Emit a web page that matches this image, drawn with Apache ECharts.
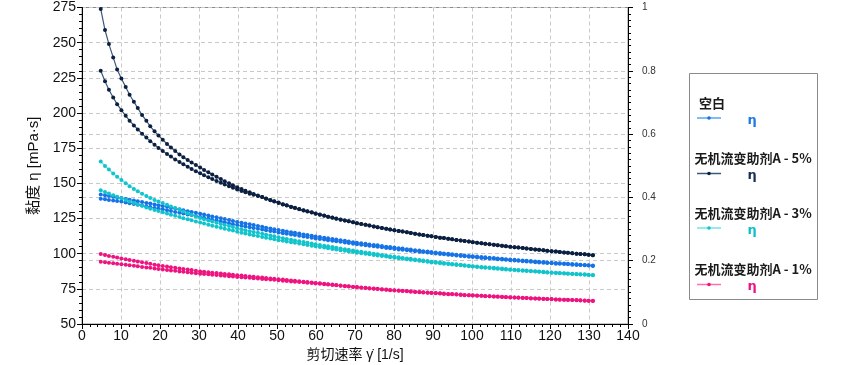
<!DOCTYPE html>
<html><head><meta charset="utf-8">
<script src="https://cdn.jsdelivr.net/npm/echarts@6/dist/echarts.min.js"></script>
<style>html,body{margin:0;padding:0;background:#fff}#c{width:844px;height:365px}</style>
</head><body><div id="c"></div>
<script>
// shear rate (1/s), shared by all curves
const shearRate = [
4.8, 5.9, 6.9, 8.0, 9.0, 10.1, 11.2, 12.2, 13.3, 14.3,
15.4, 16.5, 17.5, 18.6, 19.6, 20.7, 21.8, 22.8, 23.9, 25.0,
26.0, 27.1, 28.1, 29.2, 30.3, 31.3, 32.4, 33.4, 34.5, 35.6,
36.6, 37.7, 38.7, 39.8, 40.9, 41.9, 43.0, 44.0, 45.1, 46.2,
47.2, 48.3, 49.3, 50.4, 51.5, 52.5, 53.6, 54.6, 55.7, 56.8,
57.8, 58.9, 59.9, 61.0, 62.1, 63.1, 64.2, 65.2, 66.3, 67.4,
68.4, 69.5, 70.5, 71.6, 72.7, 73.7, 74.8, 75.8, 76.9, 78.0,
79.0, 80.1, 81.2, 82.2, 83.3, 84.3, 85.4, 86.5, 87.5, 88.6,
89.6, 90.7, 91.8, 92.8, 93.9, 94.9, 96.0, 97.1, 98.1, 99.2,
100.2, 101.3, 102.4, 103.4, 104.5, 105.6, 106.6, 107.7, 108.7, 109.8,
110.9, 111.9, 113.0, 114.0, 115.1, 116.2, 117.2, 118.3, 119.3, 120.4,
121.5, 122.5, 123.6, 124.6, 125.7, 126.8, 127.8, 128.9, 129.9, 131.0];

// 空白
const blankUp = [
142.0, 141.5, 141.0, 140.5, 140.0, 139.5, 138.9, 138.4, 137.8, 137.3,
136.7, 136.1, 135.6, 135.0, 134.5, 133.9, 133.3, 132.7, 132.1, 131.5,
130.9, 130.2, 129.7, 129.1, 128.4, 127.8, 127.1, 126.5, 125.9, 125.2,
124.6, 123.9, 123.3, 122.6, 122.0, 121.5, 120.9, 120.3, 119.7, 119.1,
118.5, 117.9, 117.4, 116.8, 116.3, 115.8, 115.3, 114.8, 114.3, 113.7,
113.3, 112.7, 112.2, 111.8, 111.3, 110.9, 110.4, 110.0, 109.6, 109.1,
108.7, 108.2, 107.8, 107.4, 107.0, 106.6, 106.2, 105.9, 105.4, 105.0,
104.7, 104.3, 103.9, 103.6, 103.2, 102.9, 102.5, 102.2, 101.8, 101.5,
101.1, 100.8, 100.5, 100.2, 99.9, 99.6, 99.3, 99.0, 98.7, 98.4,
98.2, 97.9, 97.6, 97.4, 97.1, 96.9, 96.6, 96.4, 96.1, 95.8,
95.6, 95.4, 95.1, 94.9, 94.7, 94.4, 94.2, 94.0, 93.8, 93.5,
93.3, 93.2, 93.0, 92.8, 92.6, 92.4, 92.2, 92.0, 91.8, 91.6];
const blankDown = [
139.0, 138.6, 138.2, 137.8, 137.4, 137.0, 136.4, 135.9, 135.3, 134.8,
134.2, 133.6, 133.1, 132.5, 132.0, 131.5, 130.9, 130.3, 129.7, 129.1,
128.5, 127.9, 127.4, 126.8, 126.1, 125.5, 124.8, 124.2, 123.6, 122.9,
122.3, 121.6, 121.0, 120.4, 119.8, 119.4, 118.8, 118.3, 117.7, 117.2,
116.6, 116.1, 115.7, 115.1, 114.6, 114.2, 113.7, 113.3, 112.8, 112.2,
111.9, 111.3, 110.8, 110.4, 110.0, 109.6, 109.1, 108.8, 108.4, 107.9,
107.6, 107.1, 106.7, 106.3, 105.9, 105.6, 105.2, 104.9, 104.5, 104.1,
103.8, 103.4, 103.0, 102.7, 102.4, 102.1, 101.7, 101.4, 101.1, 100.8,
100.4, 100.1, 99.8, 99.5, 99.2, 99.0, 98.7, 98.4, 98.1, 97.8,
97.6, 97.3, 97.0, 96.8, 96.5, 96.3, 96.0, 95.8, 95.6, 95.3,
95.1, 94.9, 94.6, 94.4, 94.2, 93.9, 93.8, 93.6, 93.4, 93.1,
92.9, 92.8, 92.6, 92.4, 92.2, 92.0, 91.9, 91.7, 91.5, 91.3];

// 无机流变助剂A - 5%
const a5Up = [
274.0, 259.0, 249.0, 239.5, 231.0, 224.5, 218.5, 213.0, 208.0, 203.5,
198.5, 194.5, 190.5, 187.0, 184.0, 181.0, 178.0, 175.5, 173.0, 170.5,
168.5, 166.5, 164.8, 163.0, 161.2, 159.5, 157.8, 156.2, 154.6, 153.0,
151.5, 150.0, 148.7, 147.3, 146.0, 144.8, 143.6, 142.5, 141.3, 140.2,
139.3, 138.2, 137.2, 136.3, 135.2, 134.4, 133.4, 132.6, 131.7, 130.9,
130.1, 129.4, 128.6, 127.8, 127.1, 126.3, 125.7, 125.0, 124.3, 123.5,
123.0, 122.4, 121.7, 121.1, 120.5, 120.0, 119.4, 118.8, 118.2, 117.7,
117.2, 116.7, 116.1, 115.7, 115.2, 114.7, 114.2, 113.7, 113.2, 112.8,
112.4, 111.9, 111.4, 111.1, 110.6, 110.2, 109.8, 109.4, 109.0, 108.6,
108.2, 107.8, 107.4, 107.1, 106.7, 106.3, 106.0, 105.6, 105.3, 104.9,
104.6, 104.3, 104.0, 103.7, 103.3, 103.0, 102.7, 102.4, 102.1, 101.8,
101.5, 101.2, 100.9, 100.6, 100.3, 100.0, 99.8, 99.5, 99.2, 98.9];
const a5Down = [
230.0, 222.5, 216.5, 211.0, 206.3, 202.0, 198.0, 194.5, 191.2, 188.3,
185.3, 182.5, 180.0, 177.5, 175.2, 173.0, 170.9, 169.0, 167.0, 165.2,
163.5, 161.8, 160.2, 158.6, 157.1, 155.7, 154.3, 153.0, 151.7, 150.4,
149.2, 148.0, 146.8, 145.7, 144.6, 143.6, 142.6, 141.8, 141.0, 140.2,
139.1, 138.0, 137.0, 136.1, 135.0, 134.2, 133.2, 132.4, 131.5, 130.7,
129.9, 129.2, 128.4, 127.7, 127.0, 126.2, 125.6, 124.9, 124.2, 123.5,
123.0, 122.4, 121.7, 121.1, 120.5, 120.0, 119.4, 118.8, 118.2, 117.7,
117.2, 116.7, 116.1, 115.7, 115.2, 114.7, 114.2, 113.7, 113.2, 112.8,
112.4, 111.9, 111.4, 111.1, 110.6, 110.2, 109.8, 109.4, 109.0, 108.6,
108.2, 107.8, 107.4, 107.1, 106.7, 106.3, 106.0, 105.6, 105.3, 104.9,
104.6, 104.3, 104.0, 103.7, 103.3, 103.0, 102.7, 102.4, 102.1, 101.8,
101.5, 101.2, 100.9, 100.6, 100.3, 100.0, 99.8, 99.5, 99.2, 98.9];

// 无机流变助剂A - 3%
const a3Up = [
165.5, 162.3, 159.8, 157.0, 154.7, 152.3, 150.0, 148.0, 146.0, 144.3,
142.6, 141.0, 139.6, 138.2, 137.0, 136.0, 134.8, 133.6, 132.4, 131.2,
130.0, 128.7, 127.6, 126.4, 125.3, 124.5, 123.6, 122.8, 121.9, 121.1,
120.4, 119.6, 118.9, 118.0, 117.3, 116.7, 116.0, 115.4, 114.8, 114.1,
113.5, 112.9, 112.3, 111.6, 111.0, 110.5, 109.9, 109.4, 108.8, 108.3,
107.7, 107.2, 106.7, 106.1, 105.6, 105.2, 104.7, 104.2, 103.7, 103.2,
102.7, 102.2, 101.8, 101.3, 100.9, 100.4, 100.0, 99.6, 99.1, 98.6,
98.2, 97.8, 97.4, 97.0, 96.6, 96.3, 95.9, 95.5, 95.1, 94.7,
94.3, 94.0, 93.7, 93.4, 93.0, 92.7, 92.4, 92.1, 91.8, 91.4,
91.1, 90.9, 90.6, 90.4, 90.1, 89.9, 89.6, 89.4, 89.1, 88.8,
88.6, 88.4, 88.2, 88.0, 87.7, 87.5, 87.3, 87.1, 86.8, 86.6,
86.4, 86.3, 86.1, 85.9, 85.8, 85.6, 85.4, 85.3, 85.1, 84.9];
const a3Down = [
145.0, 143.8, 142.7, 141.6, 140.5, 139.4, 138.2, 137.1, 136.0, 135.0,
134.0, 132.9, 132.0, 131.1, 130.3, 129.4, 128.5, 127.7, 126.9, 126.0,
125.2, 124.4, 123.7, 122.9, 122.1, 121.4, 120.6, 119.9, 119.2, 118.4,
117.7, 117.0, 116.4, 115.6, 114.8, 114.3, 113.7, 113.1, 112.5, 111.9,
111.3, 110.7, 110.2, 109.6, 109.1, 108.6, 108.1, 107.7, 107.2, 106.7,
106.2, 105.7, 105.2, 104.8, 104.3, 103.9, 103.4, 103.0, 102.5, 102.0,
101.6, 101.1, 100.7, 100.3, 99.9, 99.5, 99.1, 98.7, 98.3, 97.9,
97.5, 97.1, 96.7, 96.4, 96.0, 95.6, 95.3, 94.9, 94.6, 94.2,
93.8, 93.5, 93.2, 92.9, 92.6, 92.3, 92.0, 91.7, 91.4, 91.0,
90.8, 90.5, 90.2, 90.0, 89.8, 89.5, 89.3, 89.0, 88.8, 88.5,
88.3, 88.1, 87.9, 87.7, 87.5, 87.3, 87.1, 86.8, 86.6, 86.4,
86.2, 86.1, 85.9, 85.7, 85.5, 85.4, 85.2, 85.0, 84.8, 84.6];

// 无机流变助剂A - 1%
const a1Up = [
99.7, 99.0, 98.4, 97.8, 97.2, 96.5, 96.0, 95.5, 94.9, 94.4,
93.9, 93.3, 92.8, 92.2, 91.7, 91.2, 90.8, 90.4, 89.9, 89.5,
89.1, 88.7, 88.3, 87.8, 87.4, 87.1, 86.8, 86.5, 86.2, 85.9,
85.6, 85.3, 85.0, 84.7, 84.4, 84.1, 83.8, 83.6, 83.3, 83.0,
82.7, 82.4, 82.2, 81.9, 81.6, 81.3, 81.0, 80.7, 80.4, 80.1,
79.8, 79.5, 79.2, 78.9, 78.6, 78.3, 78.0, 77.7, 77.4, 77.1,
76.8, 76.5, 76.3, 76.0, 75.8, 75.5, 75.2, 75.0, 74.7, 74.5,
74.2, 74.0, 73.8, 73.6, 73.4, 73.2, 73.0, 72.8, 72.6, 72.4,
72.2, 72.0, 71.8, 71.6, 71.4, 71.3, 71.1, 70.9, 70.7, 70.5,
70.4, 70.2, 70.1, 69.9, 69.8, 69.6, 69.5, 69.3, 69.2, 69.0,
68.9, 68.8, 68.6, 68.5, 68.3, 68.2, 68.1, 67.9, 67.8, 67.7,
67.5, 67.4, 67.3, 67.2, 67.1, 67.0, 66.8, 66.7, 66.6, 66.5];
const a1Down = [
94.3, 93.9, 93.6, 93.2, 92.9, 92.5, 92.1, 91.8, 91.4, 91.0,
90.6, 90.2, 89.9, 89.5, 89.1, 88.8, 88.4, 88.1, 87.8, 87.4,
87.1, 86.8, 86.5, 86.1, 85.8, 85.6, 85.3, 85.1, 84.8, 84.5,
84.3, 84.0, 83.7, 83.5, 83.2, 83.0, 82.8, 82.5, 82.3, 82.0,
81.8, 81.6, 81.4, 81.1, 80.8, 80.6, 80.3, 80.1, 79.8, 79.6,
79.3, 79.1, 78.8, 78.6, 78.3, 78.0, 77.7, 77.5, 77.2, 76.9,
76.6, 76.3, 76.1, 75.8, 75.6, 75.3, 75.0, 74.8, 74.5, 74.3,
74.0, 73.8, 73.6, 73.4, 73.2, 73.0, 72.8, 72.6, 72.4, 72.2,
72.0, 71.8, 71.6, 71.4, 71.2, 71.1, 70.9, 70.7, 70.5, 70.4,
70.3, 70.1, 70.0, 69.8, 69.7, 69.5, 69.4, 69.2, 69.1, 68.9,
68.8, 68.7, 68.5, 68.4, 68.2, 68.1, 68.0, 67.8, 67.7, 67.6,
67.4, 67.3, 67.2, 67.1, 67.0, 66.9, 66.7, 66.6, 66.5, 66.4];

const groupNames = ['空白', '无机流变助剂A - 5%', '无机流变助剂A - 3%', '无机流变助剂A - 1%'];
const groupCurves = [[blankUp, blankDown], [a5Up, a5Down], [a3Up, a3Down], [a1Up, a1Down]];
const lineColors = ['#5aa4f2', '#3b5878', '#6ee6e6', '#ff6fb0'];
const markerColors = ['#1673e6', '#0b1f40', '#11c4cc', '#ee1480'];
const etaColors = ['#1f7ae6', '#1a2f55', '#10c0c8', '#ee1480'];
const leftTicks = {min: 50, max: 275, interval: 25};
const bottomTicks = {min: 0, max: 140, interval: 10};
const rightTicks = {min: 0, max: 1, interval: 0.2};

const series = [];
groupCurves.forEach((pair, g) => {
  pair.forEach((vals) => {
    series.push({
      type: 'line', name: groupNames[g], xAxisIndex: 0, yAxisIndex: 0,
      data: shearRate.map((x, i) => [x, vals[i]]),
      symbol: 'circle', symbolSize: 4, showSymbol: true, showAllSymbol: true,
      lineStyle: {color: lineColors[g], width: 1.2},
      itemStyle: {color: markerColors[g]},
      emphasis: {disabled: true}, z: 3
    });
  });
});

const grid = {left: 82, right: 216, top: 7.5, bottom: 41};
const splitStyle = {show: true, lineStyle: {color: '#c9c9c9', type: [4, 3], width: 1}};
const cjk = '"Liberation Sans", Arial, "Noto Sans CJK SC", sans-serif';

// legend graphics
const legendTop = [103, 158.5, 213, 269.5];
const graphics = [{
  type: 'rect', shape: {x: 689.5, y: 73.5, width: 128, height: 226},
  style: {fill: '#fff', stroke: '#8a8a8a', lineWidth: 1}, z: 10
}];
groupNames.forEach((n, g) => {
  const ty = legendTop[g];
  graphics.push({type: 'text', x: g === 0 ? 699 : 694.5, y: ty, z: 11,
    style: {text: n, font: 'bold 13px "Noto Sans CJK SC", sans-serif', fill: '#1a1a1a', textVerticalAlign: 'middle'}});
  const ly = ty + 15;
  graphics.push({type: 'line', shape: {x1: 697, y1: ly, x2: 721, y2: ly}, z: 11,
    style: {stroke: lineColors[g], lineWidth: 1.5}});
  graphics.push({type: 'circle', shape: {cx: 709, cy: ly, r: 1.8}, z: 12,
    style: {fill: markerColors[g]}});
  graphics.push({type: 'text', x: 747.5, y: ly + 2.5, z: 11,
    style: {text: 'η', font: 'bold 13px "DejaVu Sans", sans-serif', fill: etaColors[g], textVerticalAlign: 'middle'}});
});

const chart = echarts.init(document.getElementById('c'), null, {renderer: 'canvas'});
chart.setOption({
  animation: false,
  backgroundColor: '#fff',
  grid: Object.assign({show: true, borderColor: '#8a8a8a', borderWidth: 1, backgroundColor: 'transparent',
    containLabel: false, outerBoundsMode: 'none'}, grid),
  xAxis: [{
    type: 'value', min: bottomTicks.min, max: bottomTicks.max, interval: bottomTicks.interval,
    name: '剪切速率 γ̇ [1/s]', nameLocation: 'middle', nameGap: 23,
    nameTextStyle: {fontSize: 14, color: '#111', fontFamily: cjk},
    axisLine: {show: true, onZero: false, lineStyle: {color: '#000', width: 1}},
    axisTick: {show: true, length: 5, lineStyle: {color: '#000'}},
    minorTick: {show: true, splitNumber: 5, length: 3, lineStyle: {color: '#000'}},
    axisLabel: {fontSize: 14, color: '#111', margin: 5, fontFamily: cjk},
    splitLine: splitStyle
  }],
  yAxis: [{
    type: 'value', min: leftTicks.min, max: leftTicks.max, interval: leftTicks.interval,
    name: '黏度 η [mPa·s]', nameLocation: 'middle', nameGap: 40,
    nameTextStyle: {fontSize: 15, color: '#111', fontFamily: cjk},
    axisLine: {show: true, onZero: false, lineStyle: {color: '#000', width: 1}},
    axisTick: {show: true, length: 5, lineStyle: {color: '#000'}},
    minorTick: {show: true, splitNumber: 5, length: 3, lineStyle: {color: '#000'}},
    axisLabel: {fontSize: 14, color: '#111', margin: 6, fontFamily: cjk},
    splitLine: splitStyle
  }, {
    type: 'value', position: 'right', min: rightTicks.min, max: rightTicks.max, interval: rightTicks.interval,
    axisLine: {show: true, onZero: false, lineStyle: {color: '#000', width: 1}},
    axisTick: {show: true, length: 5, lineStyle: {color: '#000'}},
    minorTick: {show: true, splitNumber: 10, length: 3, lineStyle: {color: '#000'}},
    axisLabel: {fontSize: 10, color: '#333', margin: 14, fontFamily: cjk},
    splitLine: splitStyle
  }],
  series: series,
  graphic: graphics
});
</script></body></html>
